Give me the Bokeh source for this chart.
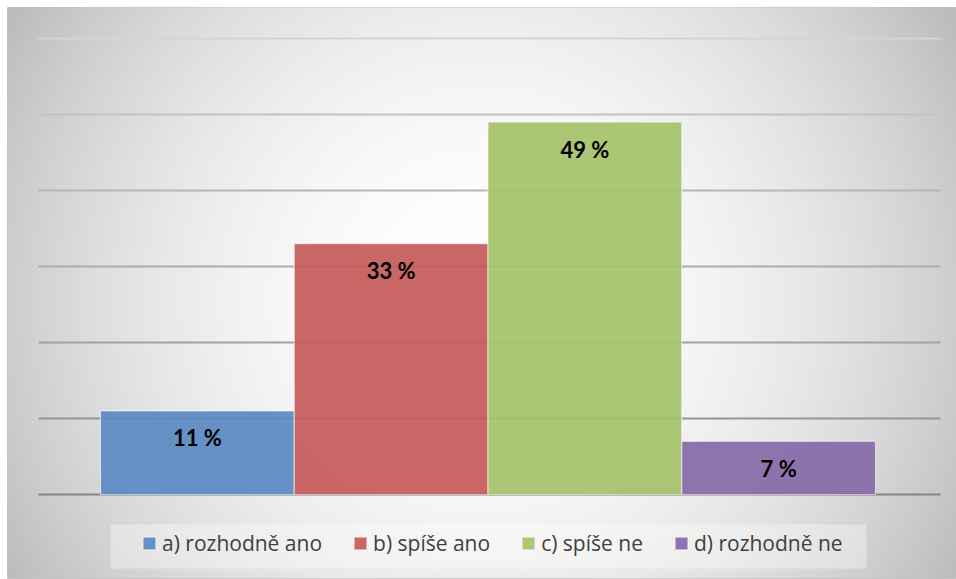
import numpy as np
from bokeh.plotting import figure
from bokeh.models import ColumnDataSource, Legend, LegendItem, BoxAnnotation, Range1d
from bokeh.core.properties import value
from bokeh.embed import file_html
from bokeh.resources import INLINE

# ---- data ----
categories = ["a) rozhodně ano", "b) spíše ano", "c) spíše ne", "d) rozhodně ne"]
values = [11, 33, 49, 7]
y_ticks = [0, 10, 20, 30, 40, 50, 60]

# ---- style ----
bar_colors = ["#5b8ac3", "#c55b5a", "#a5c269", "#866ba8"]
grid_colors = ["#858585", "#959595", "#a2a2a2", "#acacac", "#b6b6b6", "#c2c2c2", "#d4d4d4"]

BL, BT, BB = 7, 7, 1          # white borders around the chart box
FW, FH = 949, 571             # frame size
W, H = BL + FW, BT + FH + BB

bar_px = 193.75               # width of one bar in px
left_pad_px = 93              # from frame left to first bar
zero_from_bottom = 84         # px from frame bottom to value 0
px_per_unit_y = 7.6

x_start = -0.5 - left_pad_px / bar_px
x_end = x_start + FW / bar_px
y_start = -zero_from_bottom / px_per_unit_y
y_end = y_start + FH / px_per_unit_y

def px2x(px):
    return x_start + px / bar_px

def px2y(py_from_bottom):
    return y_start + py_from_bottom / px_per_unit_y

p = figure(width=W, height=H, output_backend="svg", toolbar_location=None,
           x_range=Range1d(x_start, x_end), y_range=Range1d(y_start, y_end),
           min_border=0, min_border_left=BL, min_border_right=0,
           min_border_top=BT, min_border_bottom=BB)
p.axis.visible = False
p.grid.visible = False
p.outline_line_color = "#c4c4c4"
p.background_fill_color = "#d8d8d8"
p.border_fill_color = "white"

# radial gradient background
s = 2
gw, gh = FW // s + 1, FH // s + 1
jj, ii = np.meshgrid(np.arange(gw) * s, np.arange(gh) * s)  # ii from bottom
cx, cy = 473, FH - 293
d = np.sqrt((jj - cx) ** 2 + (ii - cy) ** 2)
t = np.clip(d / 545.0, 0, 1) ** 2
b = (255 - 66 * t).astype(np.uint32)
img = (np.uint32(255) << 24) | (b << 16) | (b << 8) | b
p.image_rgba(image=[img.astype(np.uint32)], x=x_start, y=y_start,
             dw=gw * s / bar_px, dh=gh * s / px_per_unit_y)

# gridlines
n = len(categories)
gx0 = -0.5 - 0.32
gx1 = n - 0.5 + 0.335
p.segment(x0=[gx0] * len(y_ticks), x1=[gx1] * len(y_ticks), y0=y_ticks, y1=y_ticks,
          line_color=grid_colors, line_width=2)

# legend background box
p.add_layout(BoxAnnotation(left=px2x(103), right=px2x(859), bottom=px2y(10), top=px2y(54),
                           fill_color="white", fill_alpha=0.35, line_color=None))

src = ColumnDataSource(dict(x=list(range(n)), top=values, color=bar_colors,
                            label=categories,
                            txt=[f"{v} %" for v in values]))
r = p.vbar(x="x", top="top", bottom=0, width=1.0, source=src, fill_color="color",
           fill_alpha=0.93, line_color="white", line_alpha=0.55, line_width=1.2)

p.text(x="x", y="top", text="txt", source=src, text_align="center",
       text_baseline="middle", y_offset=27, text_font=value("Lato"),
       text_font_style="bold", text_font_size="22px", text_color="black")

items = [LegendItem(label=c, renderers=[r], index=i) for i, c in enumerate(categories)]
legend = Legend(items=items, orientation="horizontal", location=(134, 21),
                glyph_width=16, glyph_height=16, label_standoff=5, spacing=30,
                padding=0, margin=0, label_text_font="Open Sans", label_text_font_size="21px",
                label_text_color="#404040", background_fill_alpha=0,
                border_line_color=None, label_height=20)
p.add_layout(legend)

open("out.html", "w").write(file_html(p, INLINE))
